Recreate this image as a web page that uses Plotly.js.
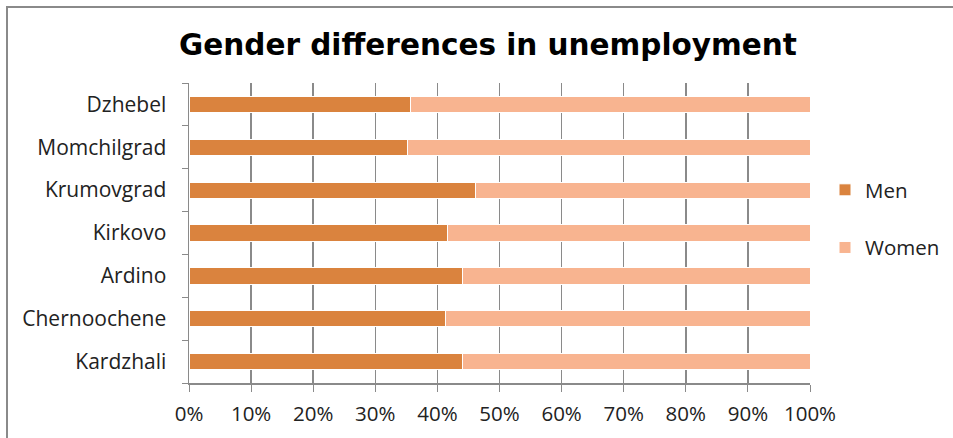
<!DOCTYPE html>
<html><head><meta charset="utf-8">
<script src="https://cdn.plot.ly/plotly-3.0.1.min.js"></script>
<style>html,body{margin:0;padding:0;background:#fff}#chart{width:953px;height:438px}</style>
</head><body><div id="chart"></div>
<script>
const categories = ["Kardzhali","Chernoochene","Ardino","Kirkovo","Krumovgrad","Momchilgrad","Dzhebel"];
const menShare = [44.0, 41.3, 44.0, 41.7, 46.1, 35.2, 35.7];
const womenShare = menShare.map(v => 100 - v);
const xTickVals = [0,10,20,30,40,50,60,70,80,90,100];
const xTickText = ["0%","10%","20%","30%","40%","50%","60%","70%","80%","90%","100%"];

const L = 189, R = 810, T = 83, B = 383, W = 953, H = 438;
const pw = R - L, ph = B - T;
const px = x => (x - L) / pw;
const py = y => (B - y) / ph;
const FONT = 'Open Sans';

const traces = [
  {type:'bar', orientation:'h', name:'Men', y:categories, x:menShare, legendgroup:'a',
   marker:{color:'#DA833E', line:{color:'#ffffff', width:1}}, width:0.38, hoverinfo:'skip'},
  {type:'bar', orientation:'h', name:'Women', y:categories, x:womenShare, legendgroup:'b',
   marker:{color:'#F8B490', line:{color:'#ffffff', width:1}}, width:0.38, hoverinfo:'skip'}
];

const layout = {
  width:W, height:H,
  margin:{l:L, r:W-R, t:T, b:H-B, pad:0, autoexpand:false},
  paper_bgcolor:'#fff', plot_bgcolor:'#fff',
  barmode:'stack',
  title:{text:'<b>Gender differences in unemployment</b>', x:(488)/W, xanchor:'center', y:1-45/H, yanchor:'middle',
         font:{family:'DejaVu Sans', size:29.5, color:'#000'}},
  font:{family:FONT, size:21, color:'#222'},
  xaxis:{range:[0,100], tickvals:xTickVals, ticktext:xTickText, showgrid:true, gridcolor:'#8a8a8a', gridwidth:1.5,
         showline:true, linecolor:'#8a8a8a', linewidth:1.5, ticks:'outside', ticklen:7, tickcolor:'#8a8a8a',
         ticklabelstandoff:5, zeroline:false, fixedrange:true, tickfont:{family:FONT, size:20.5, color:'#222'}},
  yaxis:{type:'category', categoryorder:'array', categoryarray:categories, showline:true, linecolor:'#8a8a8a', linewidth:1.5,
         ticks:'outside', ticklen:6, tickcolor:'#8a8a8a', tickson:'boundaries', showgrid:false,
         ticklabelstandoff:17, fixedrange:true, tickfont:{family:FONT, size:21, color:'#222'}},
  showlegend:true,
  legend:{x:px(825), xanchor:'left', y:py(170), yanchor:'top', traceorder:'grouped', tracegroupgap:28,
          font:{family:FONT, size:20.5, color:'#222'}, bgcolor:'rgba(0,0,0,0)', itemwidth:30},
  shapes:[
    {type:'rect', xref:'paper', yref:'paper', x0:px(7), x1:px(980), y0:py(480), y1:py(7),
     line:{color:'#8a8a8a', width:2}, fillcolor:'rgba(0,0,0,0)', layer:'below'}
  ]
};

Plotly.newPlot('chart', traces, layout, {displayModeBar:false, staticPlot:true});
</script></body></html>
